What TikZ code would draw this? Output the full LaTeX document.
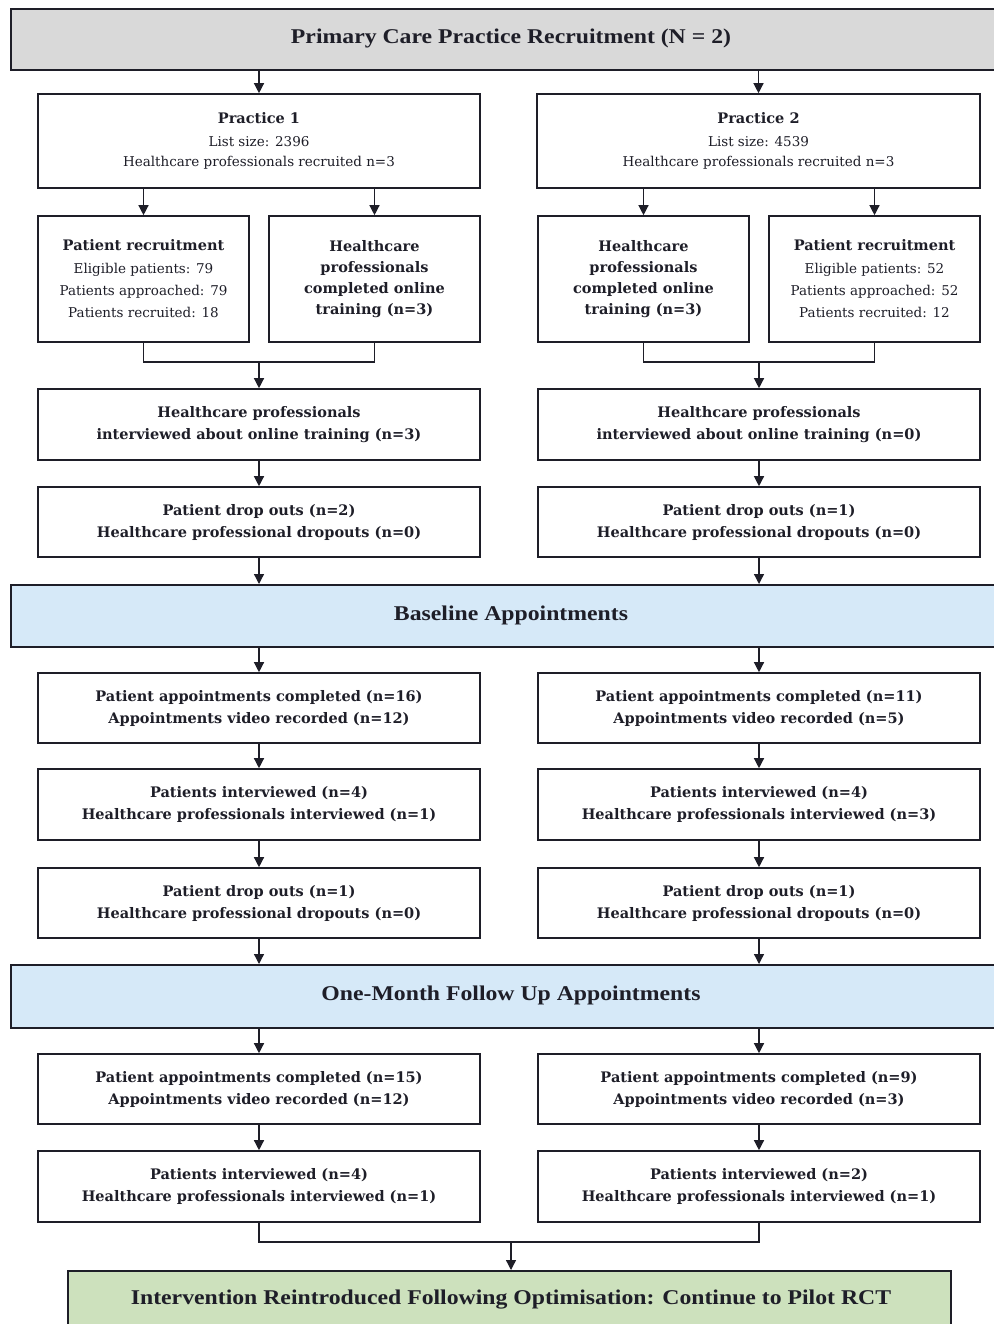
\documentclass[tikz,border=0pt]{standalone}
\usepackage{fontspec}
\setmainfont{Liberation Serif}
\newfontfamily\boxfont{DejaVu Serif}
\usetikzlibrary{arrows.meta,calc}
\definecolor{hgray}{RGB}{217,217,217}
\definecolor{hblue}{RGB}{214,233,248}
\definecolor{hgreen}{RGB}{205,225,189}
\definecolor{ink}{RGB}{30,30,40}
\tikzset{
  box/.style={draw=ink, line width=1.6pt, fill=white, align=center, inner sep=2pt, text=ink, font=\boxfont\fontsize{14.5}{22}\selectfont\bfseries},
  head/.style={draw=ink, line width=1.6pt, align=center, text=ink, font=\fontsize{21}{25}\selectfont\bfseries},
  htext/.style={text=ink, font=\fontsize{21}{25}\selectfont\bfseries},
  arr/.style={draw=ink, line width=1.3pt, -{Triangle[length=10pt,width=10pt]}},
  ln/.style={draw=ink, line width=1.3pt}
}
\newcommand{\bx}[1]{\fontsize{13.5}{21}\selectfont\mdseries #1}
\newcommand{\hs}[1]{\scalebox{1.13}[1]{#1}}
\begin{document}
\begin{tikzpicture}[x=1pt,y=-1pt]
\useasboundingbox (0,0) rectangle (993,1324);
% headers
\node[head, fill=hgray, minimum width=1000, minimum height=61, anchor=north west] (top) at (10,8) {};
\node[htext] (toptext) at (511,38) {\hs{Primary Care Practice Recruitment (N = 2)}};
\node[head, fill=hblue, minimum width=1000, minimum height=62, anchor=north west] (base) at (10,584) {};
\node[htext] (basetext) at (511,615) {\hs{Baseline Appointments}};
\node[head, fill=hblue, minimum width=1000, minimum height=63, anchor=north west] (fu) at (10,964) {};
\node[htext] (futext) at (511,995) {\hs{One-Month Follow Up Appointments}};
\node[head, fill=hgreen, minimum width=883, minimum height=70, anchor=north west] (rct) at (67,1270) {};
\node[htext] (rcttext) at (511,1300) {\hs{Intervention Reintroduced Following Optimisation: Continue to Pilot RCT}};
% practice boxes
\node[box, minimum width=442, minimum height=94] (p1) at (259,141) {Practice 1\\[1pt]\bx{List size: 2396}\\[-2pt]\bx{Healthcare professionals recruited n=3}};
\node[box, minimum width=443, minimum height=94] (p2) at (758.5,141) {Practice 2\\[1pt]\bx{List size: 4539}\\[-2pt]\bx{Healthcare professionals recruited n=3}};
% sub boxes
\node[box, minimum width=211, minimum height=126] (pr1) at (143.5,279) {Patient recruitment\\[1pt]\bx{Eligible patients: 79}\\\bx{Patients approached: 79}\\\bx{Patients recruited: 18}};
\node[box, minimum width=211, minimum height=126] (hc1) at (374.5,279) {Healthcare\\[-1pt]professionals\\[-1pt]completed online\\[-1pt]training (n=3)};
\node[box, minimum width=211, minimum height=126] (hc2) at (643.5,279) {Healthcare\\[-1pt]professionals\\[-1pt]completed online\\[-1pt]training (n=3)};
\node[box, minimum width=211, minimum height=126] (pr2) at (874.5,279) {Patient recruitment\\[1pt]\bx{Eligible patients: 52}\\\bx{Patients approached: 52}\\\bx{Patients recruited: 12}};
% interviewed about training
\node[box, minimum width=442, minimum height=71] (it1) at (259,424.5) {Healthcare professionals\\interviewed about online training (n=3)};
\node[box, minimum width=442, minimum height=71] (it2) at (759,424.5) {Healthcare professionals\\interviewed about online training (n=0)};
\node[box, minimum width=442, minimum height=70] (d1) at (259,522) {Patient drop outs (n=2)\\Healthcare professional dropouts (n=0)};
\node[box, minimum width=442, minimum height=70] (d2) at (759,522) {Patient drop outs (n=1)\\Healthcare professional dropouts (n=0)};
% baseline
\node[box, minimum width=442, minimum height=70] (ba1) at (259,708) {Patient appointments completed (n=16)\\Appointments video recorded (n=12)};
\node[box, minimum width=442, minimum height=70] (ba2) at (759,708) {Patient appointments completed (n=11)\\Appointments video recorded (n=5)};
\node[box, minimum width=442, minimum height=71] (bi1) at (259,804.5) {Patients interviewed (n=4)\\Healthcare professionals interviewed (n=1)};
\node[box, minimum width=442, minimum height=71] (bi2) at (759,804.5) {Patients interviewed (n=4)\\Healthcare professionals interviewed (n=3)};
\node[box, minimum width=442, minimum height=70] (bd1) at (259,903) {Patient drop outs (n=1)\\Healthcare professional dropouts (n=0)};
\node[box, minimum width=442, minimum height=70] (bd2) at (759,903) {Patient drop outs (n=1)\\Healthcare professional dropouts (n=0)};
% follow up
\node[box, minimum width=442, minimum height=70] (fa1) at (259,1089) {Patient appointments completed (n=15)\\Appointments video recorded (n=12)};
\node[box, minimum width=442, minimum height=70] (fa2) at (759,1089) {Patient appointments completed (n=9)\\Appointments video recorded (n=3)};
\node[box, minimum width=442, minimum height=71] (fi1) at (259,1186.5) {Patients interviewed (n=4)\\Healthcare professionals interviewed (n=1)};
\node[box, minimum width=442, minimum height=71] (fi2) at (759,1186.5) {Patients interviewed (n=2)\\Healthcare professionals interviewed (n=1)};
% connectors
\draw[arr] (top.south -| p1.north) -- (p1.north);
\draw[arr] (top.south -| p2.north) -- (p2.north);
\draw[arr] (p1.south -| pr1.north) -- (pr1.north);
\draw[arr] (p1.south -| hc1.north) -- (hc1.north);
\draw[arr] (p2.south -| hc2.north) -- (hc2.north);
\draw[arr] (p2.south -| pr2.north) -- (pr2.north);
\coordinate (m1) at (259,362);
\coordinate (m2) at (759,362);
\draw[ln] (pr1.south) |- (m1) -| (hc1.south);
\draw[ln] (hc2.south) |- (m2) -| (pr2.south);
\draw[arr] (m1) -- (it1.north);
\draw[arr] (m2) -- (it2.north);
\draw[arr] (it1) -- (d1);
\draw[arr] (it2) -- (d2);
\draw[arr] (d1.south) -- (d1.south |- base.north);
\draw[arr] (d2.south) -- (d2.south |- base.north);
\draw[arr] (base.south -| ba1.north) -- (ba1.north);
\draw[arr] (base.south -| ba2.north) -- (ba2.north);
\draw[arr] (ba1) -- (bi1);
\draw[arr] (ba2) -- (bi2);
\draw[arr] (bi1) -- (bd1);
\draw[arr] (bi2) -- (bd2);
\draw[arr] (bd1.south) -- (bd1.south |- fu.north);
\draw[arr] (bd2.south) -- (bd2.south |- fu.north);
\draw[arr] (fu.south -| fa1.north) -- (fa1.north);
\draw[arr] (fu.south -| fa2.north) -- (fa2.north);
\draw[arr] (fa1) -- (fi1);
\draw[arr] (fa2) -- (fi2);
\coordinate (m3) at (511,1242);
\draw[ln] (fi1.south) |- (m3) -| (fi2.south);
\draw[arr] (m3) -- (m3 |- rct.north);
\end{tikzpicture}
\end{document}
